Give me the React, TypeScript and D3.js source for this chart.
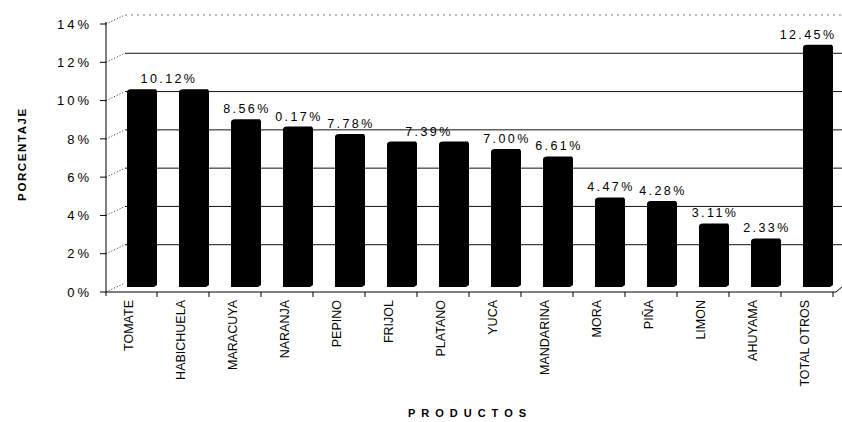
import React from "react";
import * as d3 from "d3";

// Participación porcentual por producto
const categories = [
  "TOMATE",
  "HABICHUELA",
  "MARACUYA",
  "NARANJA",
  "PEPINO",
  "FRIJOL",
  "PLATANO",
  "YUCA",
  "MANDARINA",
  "MORA",
  "PIÑA",
  "LIMON",
  "AHUYAMA",
  "TOTAL OTROS",
];
const values = [10.12, 10.12, 8.56, 8.17, 7.78, 7.39, 7.39, 7.0, 6.61, 4.47, 4.28, 3.11, 2.33, 12.45];
const valueLabels = ["10.12%", "", "8.56%", "0.17%", "7.78%", "7.39%", "", "7.00%", "6.61%", "4.47%", "4.28%", "3.11%", "2.33%", "12.45%"];
const yTicks = [0, 2, 4, 6, 8, 10, 12, 14];
const yTickLabels = ["0%", "2%", "4%", "6%", "8%", "10%", "12%", "14%"];
const yTitle = "PORCENTAJE";
const xTitle = "PRODUCTOS";

const W = 842;
const H = 422;
const FONT = "'Liberation Sans', Arial, Helvetica, sans-serif";

// front plane (axis) and back wall (gridlines, columns) of the 3-D plot
const axisX = 106;
const depthX = 19;
const yFront = d3.scaleLinear().domain([0, 14]).range([292, 24]);
const yBack = d3.scaleLinear().domain([0, 14]).range([283, 15]);
const x = d3.scalePoint<string>().domain(categories).range([142, 818]);
const barW = 30;
const barBottom = 287;
const wallLeft = axisX + depthX;
const labelFont = 12.5;
const labelSpacing = 2.4;

export default function App() {
  // merge a label with the next column when both carry the same value
  const labels = categories
    .map((c, i) => {
      if (!valueLabels[i]) return null;
      let cx = x(c)!;
      if (i + 1 < categories.length && values[i + 1] === values[i] && !valueLabels[i + 1]) {
        cx = (cx + x(categories[i + 1])!) / 2;
      }
      // keep the label inside the drawing
      const approxW = valueLabels[i].length * (labelFont * 0.58 + labelSpacing);
      cx = Math.min(cx, W - approxW / 2 - 6);
      return { key: c, text: valueLabels[i], cx, y: yBack(values[i]) - 6 };
    })
    .filter(Boolean) as { key: string; text: string; cx: number; y: number }[];

  return (
    <svg
      width={W}
      height={H}
      viewBox={`0 0 ${W} ${H}`}
      style={{ position: "absolute", left: 0, top: 0, background: "#fff" }}
      fontFamily={FONT}
    >
      <rect width={W} height={H} fill="#fff" />

      {/* back-wall gridlines */}
      {yTicks
        .filter((t) => t > 0)
        .map((t) => (
          <line
            key={`g${t}`}
            x1={wallLeft}
            x2={W}
            y1={yBack(t)}
            y2={yBack(t)}
            stroke={t === 14 ? "#777" : "#111"}
            strokeWidth={1}
            strokeDasharray={t === 14 ? "2,4" : undefined}
          />
        ))}

      {/* side wall: dotted depth lines from each tick */}
      {yTicks.map((t) => (
        <line
          key={`d${t}`}
          x1={axisX}
          y1={yFront(t)}
          x2={wallLeft}
          y2={yBack(t)}
          stroke="#222"
          strokeWidth={1}
          strokeDasharray="1,2"
        />
      ))}

      {/* columns */}
      {categories.map((c, i) => {
        const top = yBack(values[i]);
        const x0 = x(c)! - barW / 2;
        return (
          <path
            key={`b${c}`}
            d={`M${x0},${barBottom} L${x0},${top + 3} Q${x0},${top} ${x0 + 4},${top} L${x0 + barW - 1},${top} L${x0 + barW},${top + 2} L${x0 + barW},${barBottom - 2} L${x0 + barW - 3},${barBottom} Z`}
            fill="#000"
          />
        );
      })}

      {/* floor front edge and category ticks */}
      <line x1={axisX} x2={836} y1={yFront(0)} y2={yFront(0)} stroke="#000" strokeWidth={1} />
      <line x1={836} x2={843} y1={yFront(0)} y2={yFront(0) - 6} stroke="#000" strokeWidth={1} />
      {categories.map((c) => (
        <line
          key={`t${c}`}
          x1={x(c)! + 15}
          x2={x(c)! + 15}
          y1={yFront(0)}
          y2={yFront(0) + 5}
          stroke="#000"
          strokeWidth={1}
        />
      ))}

      {/* value axis */}
      <line x1={axisX} x2={axisX} y1={yFront(14) - 2} y2={yFront(0) + 4} stroke="#000" strokeWidth={1} />
      {yTicks.map((t, i) => (
        <g key={`y${t}`}>
          <line x1={axisX - 6} x2={axisX} y1={yFront(t)} y2={yFront(t)} stroke="#000" strokeWidth={1} />
          <text
            x={92}
            y={yFront(t)}
            dy="0.36em"
            textAnchor="end"
            fontSize={13}
            letterSpacing={3}
            fill="#000"
          >
            {yTickLabels[i]}
          </text>
        </g>
      ))}

      {/* value labels */}
      {labels.map((l) => (
        <text
          key={`l${l.key}`}
          x={l.cx + 1}
          y={l.y}
          textAnchor="middle"
          fontSize={labelFont}
          letterSpacing={labelSpacing}
          fill="#000"
        >
          {l.text}
        </text>
      ))}

      {/* category labels */}
      {categories.map((c) => (
        <text
          key={`c${c}`}
          transform={`translate(${x(c)! - 14},300) rotate(-90)`}
          dy="0.36em"
          textAnchor="end"
          fontSize={12.5}
          fill="#000"
        >
          {c}
        </text>
      ))}

      {/* axis titles */}
      <text
        transform="translate(22,154) rotate(-90)"
        dy="0.36em"
        textAnchor="middle"
        fontSize={11.5}
        fontWeight="bold"
        letterSpacing={1.6}
        fill="#000"
      >
        {yTitle}
      </text>
      <text x={470} y={417} textAnchor="middle" fontSize={11} fontWeight="bold" letterSpacing={6} fill="#000">
        {xTitle}
      </text>
    </svg>
  );
}
